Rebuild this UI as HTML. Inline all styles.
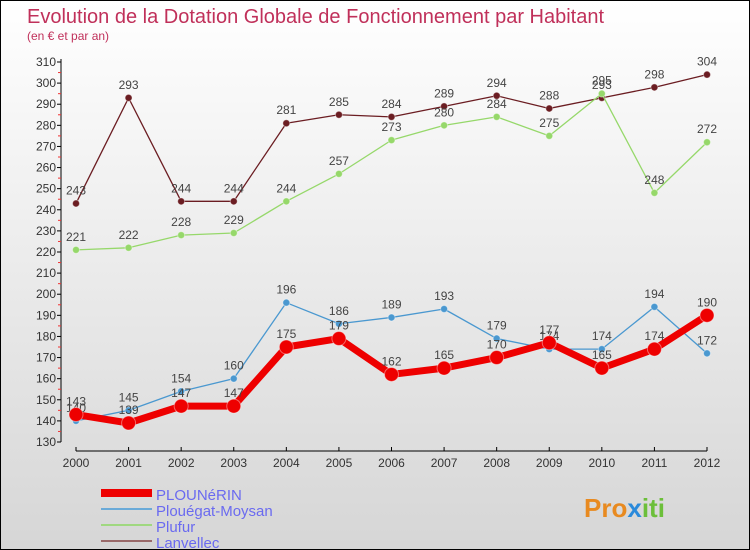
<!DOCTYPE html>
<html><head><meta charset="utf-8"><style>
body{margin:0}
#c{width:748px;height:548px;border:1px solid #000;position:relative;background:linear-gradient(#ffffff,#d6d6d6);font-family:"Liberation Sans",sans-serif;overflow:hidden}
</style></head><body>
<div id="c">
<svg id="s" width="748" height="548" xmlns="http://www.w3.org/2000/svg">
<text x="26" y="22" font-size="20" fill="#c0305a">Evolution de la Dotation Globale de Fonctionnement par Habitant</text>
<text x="26" y="39" font-size="12" fill="#c0305a">(en € et par an)</text>
<g id="axes"></g><g id="series"></g><g id="legend"></g>
<text x="583" y="516" font-size="26" font-weight="bold" fill="#e88a20">Pro<tspan fill="#2a8adb">x</tspan><tspan fill="#6cbf3a">iti</tspan></text>
</svg>
</div>
<script>
const years=[2000,2001,2002,2003,2004,2005,2006,2007,2008,2009,2010,2011,2012];
const plounerin=[143,139,147,147,175,179,162,165,170,177,165,174,190];
const plouegat=[140,145,154,160,196,186,189,193,179,174,174,194,172];
const plufur=[221,222,228,229,244,257,273,280,284,275,295,248,272];
const lanvellec=[243,293,244,244,281,285,284,289,294,288,293,298,304];
const yTicks=[130,140,150,160,170,180,190,200,210,220,230,240,250,260,270,280,290,300,310];
const NS="http://www.w3.org/2000/svg";
const X=i=>75+i*(631/12);
const Y=v=>441-(v-130)*(380/180);
function mk(p,tag,a){const e=document.createElementNS(NS,tag);for(const k in a)e.setAttribute(k,a[k]);p.appendChild(e);return e;}
const ax=document.getElementById('axes');
let l=mk(ax,'line',{x1:60,y1:58,x2:60,y2:441,stroke:'#000'});


l=mk(ax,'line',{x1:75,y1:450,x2:706,y2:450,stroke:'#000'});


yTicks.forEach((v,i)=>{
 mk(ax,'line',{x1:56,y1:Y(v),x2:60,y2:Y(v),stroke:'#000'});
 if(i<yTicks.length-1) mk(ax,'line',{x1:57,y1:Y(v+5),x2:60,y2:Y(v+5),stroke:'#f03030'});
 const t=mk(ax,'text',{x:55,y:Y(v)+4,'font-size':12,'text-anchor':'end',fill:'#333'});
 t.textContent=v;
 
 
});
years.forEach((y,i)=>{
 mk(ax,'line',{x1:X(i),y1:446,x2:X(i),y2:450,stroke:'#000'});
 const t=mk(ax,'text',{x:X(i),y:466,'font-size':12,'text-anchor':'middle',fill:'#333'});
 t.textContent=y;
 
 
});
const sg=document.getElementById('series');
function draw(data,color,w,r,name){
 const g=mk(sg,'g',{});
 
 
 const pl=mk(g,'polyline',{points:data.map((v,i)=>X(i)+','+Y(v)).join(' '),fill:'none',stroke:color,'stroke-width':w,'stroke-linejoin':'round'});
 
 
 data.forEach((v,i)=>{
  const c=mk(g,'circle',{cx:X(i),cy:Y(v),r:r,fill:color,stroke:'#fff','stroke-opacity':0.4});
  
  
  const t=mk(g,'text',{x:X(i),y:Y(v)-9,'font-size':12,'text-anchor':'middle',fill:'#444'});
  t.textContent=v;
  
  
 });
}
draw(lanvellec,'#6b1d22',1.3,3.5,'lanvellec');
draw(plufur,'#96d86a',1.3,3.5,'plufur');
draw(plouegat,'#4a98d0',1.3,3.5,'plouegat-moysan');
draw(plounerin,'#ee0000',7,7,'plounerin');
const lg=document.getElementById('legend');
const names=['PLOUNéRIN','Plouégat-Moysan','Plufur','Lanvellec'];
const cols=['#ee0000','#6aaad8','#a0d880','#9a6a6a'];
const ws=[8,2,2,2];
names.forEach((n,i)=>{
 const y=492+i*16;
 const ln=mk(lg,'line',{x1:100,y1:y,x2:151,y2:y,stroke:cols[i],'stroke-width':ws[i]});
 
 
 const t=mk(lg,'text',{x:155,y:y+7,'font-size':15,fill:'#6a6af0'});
 t.textContent=n;
 
 
});
</script>
</body></html>
